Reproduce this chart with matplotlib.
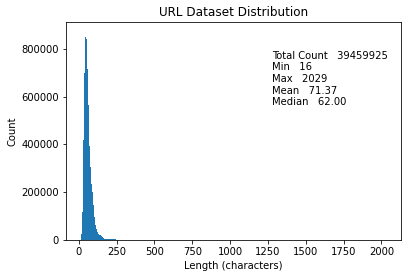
import matplotlib
matplotlib.use("Agg")
import matplotlib.pyplot as plt
import numpy as np

# URL length stats (from the dataset summary)
total_count = 39459925
len_min = 16
len_max = 2029
len_mean = 71.37
len_median = 62.00

# histogram counts, 300 bins between min and max (only the non-empty head shown)
n_bins = 300
head_counts = [25000, 117000, 419000, 698000, 851000, 842000, 715000, 565000,
               394000, 307000, 235000, 201000, 147000, 96000, 63000, 46000,
               33500, 25000, 21000, 16700, 12500, 8400, 5600, 4800, 4200,
               3800, 3500, 3300, 3100, 3000, 2800, 2600, 2400, 2200, 1500,
               0, 1800, 0, 0, 0, 0, 0, 1500]

counts = np.zeros(n_bins)
counts[:len(head_counts)] = head_counts
edges = np.linspace(len_min, len_max, n_bins + 1)
centers = (edges[:-1] + edges[1:]) / 2

fig = plt.figure(figsize=(411/72, 278/72), dpi=72)
ax = fig.add_axes([66/411, 38/278, 335/411, 218/278])

ax.hist(centers, bins=edges, weights=counts, color="#1f77b4")
ax.set_ylim(0, 913000)

ax.set_title("URL Dataset Distribution", fontsize=12)
ax.set_xlabel("Length (characters)", fontsize=10)
ax.set_ylabel("Count", fontsize=10)
ax.tick_params(labelsize=10)

stats = ("Total Count   %d\nMin   %d\nMax   %d\nMean   %.2f\nMedian   %.2f"
         % (total_count, len_min, len_max, len_mean, len_median))
ax.text(1275, 792000, stats, fontsize=10, va="top", ha="left")

fig.savefig("out.png", dpi=72)
